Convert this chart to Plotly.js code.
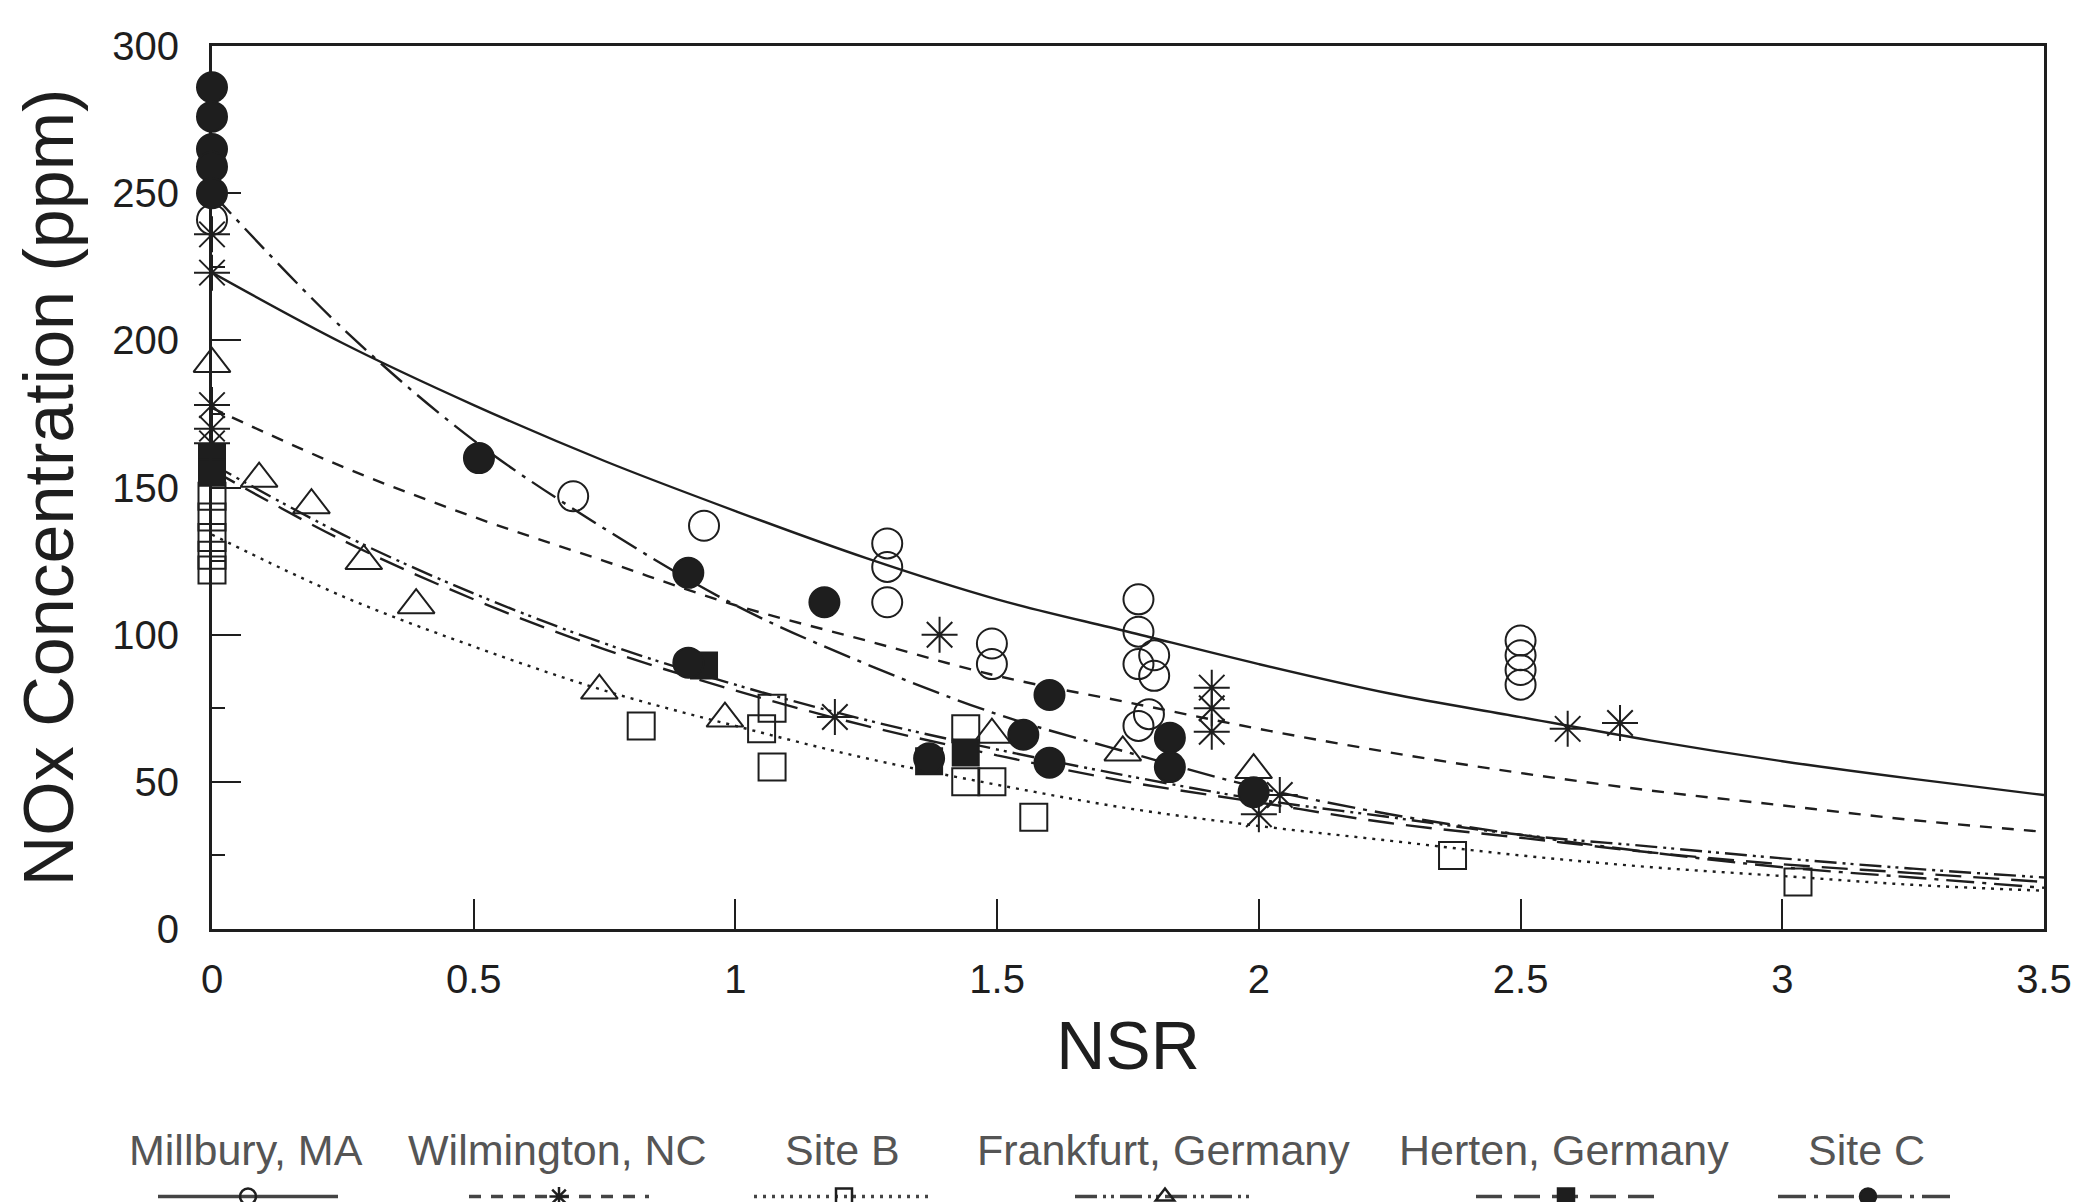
<!DOCTYPE html>
<html><head><meta charset="utf-8">
<script src="https://cdn.plot.ly/plotly-3.0.1.min.js"></script>
<style>html,body{margin:0;padding:0;background:#fff;} #chart{width:2074px;height:1202px;}</style>
</head><body><div id="chart"></div>
<script>
// ---------- data ----------
const seriesNames = ['Millbury, MA', 'Wilmington, NC', 'Site B', 'Frankfurt, Germany', 'Herten, Germany', 'Site C'];

// fitted curves, sampled at these NSR values
const curveX = [0, 0.25, 0.5, 0.75, 1, 1.25, 1.5, 1.75, 2, 2.25, 2.5, 2.75, 3, 3.25, 3.5];
const millburyCurve   = [223, 199, 178, 159, 142, 126, 112, 101, 90, 80, 72, 64, 57, 51, 45.5];
const wilmingtonCurve = [177, 157, 140, 125, 110, 98, 86, 77, 68, 60, 53, 47, 42, 37, 33];
const siteBCurve      = [134, 113, 96, 81, 69, 58, 49, 41, 35, 30, 25, 21, 18, 15, 13];
const frankfurtCurve  = [158, 134, 114, 97, 83, 71, 61, 52, 44, 38, 32, 28, 24, 20.5, 17.5];
const hertenCurve     = [156, 132, 112, 95, 81, 69, 59, 50, 43, 36, 31, 26, 22, 19, 16];
const siteCCurve      = [250, 204, 166, 136, 110, 90, 73, 60, 48, 39, 32, 26, 21, 17.5, 14];

// measured points
const millburyX = [0, 0.69, 0.94, 1.29, 1.29, 1.29, 1.49, 1.49, 1.77, 1.77, 1.8, 1.77, 1.8, 1.77, 1.79, 2.5, 2.5, 2.5, 2.5];
const millburyY = [241, 147, 137, 131, 123, 111, 97, 90, 112, 101, 93, 90, 86, 69, 73, 98, 93, 88, 83];

const wilmingtonX = [0, 0, 0, 0, 0, 1.19, 1.39, 1.91, 1.91, 1.91, 2.0, 2.04, 2.59, 2.69];
const wilmingtonY = [236, 223, 178, 170, 165, 72, 100, 82, 75, 67, 39, 45.5, 68, 70];

const siteBX = [0, 0, 0, 0, 0, 0.82, 1.07, 1.05, 1.07, 1.44, 1.44, 1.49, 1.57, 2.37, 3.03];
const siteBY = [147, 140, 133, 127, 122, 69, 75, 68, 55, 68, 50, 50, 38, 25, 16];

const frankfurtX = [0, 0.09, 0.19, 0.29, 0.39, 0.74, 0.98, 1.49, 1.74, 1.99];
const frankfurtY = [192, 153, 144, 125, 110, 81, 71.5, 66, 60, 54];

const hertenX = [0, 0, 0.94, 1.37, 1.44];
const hertenY = [160, 155, 89.5, 57, 60];

const siteCX = [0, 0, 0, 0, 0, 0.51, 0.91, 0.91, 1.17, 1.37, 1.55, 1.6, 1.6, 1.83, 1.83, 1.99];
const siteCY = [286, 276, 265, 259, 250, 160, 121, 90.5, 111, 58, 66, 79.5, 56.5, 65, 55, 46.5];

const xTickVals = [0, 0.5, 1, 1.5, 2, 2.5, 3, 3.5];
const yTickVals = [0, 50, 100, 150, 200, 250, 300];

// ---------- styling ----------
const INK = '#1e1e1e';
const FONT = 'Liberation Sans, Arial, Helvetica, sans-serif';
const styles = [
  {dash: 'solid',                       symbol: 'circle-open',      size: 30},
  {dash: '12px,10px',                   symbol: 'asterisk-open',    size: 30},
  {dash: '3px,6px',                     symbol: 'square-open',      size: 27},
  {dash: '22px,6px,3px,5px,3px,6px',    symbol: 'triangle-up-open', size: 32},
  {dash: '26px,12px',                   symbol: 'square',           size: 26},
  {dash: '28px,8px,4px,8px',            symbol: 'circle',           size: 30}
];
const curves = [millburyCurve, wilmingtonCurve, siteBCurve, frankfurtCurve, hertenCurve, siteCCurve];
const pts = [[millburyX, millburyY], [wilmingtonX, wilmingtonY], [siteBX, siteBY],
             [frankfurtX, frankfurtY], [hertenX, hertenY], [siteCX, siteCY]];

const legendKeys = ['legend', 'legend2', 'legend3', 'legend4', 'legend5', 'legend6'];
const legendCentersPx = [246, 557, 842, 1163, 1564, 1866];

const W = 2074, H = 1202;
const M = {l: 212, r: 30, t: 46, b: 273};
const plotW = W - M.l - M.r, plotH = H - M.t - M.b;
const LEG_LINE = 180;        // legend sample length (px)
const LEG_LINE_OFFSET = 3;   // gap between legend box edge and sample start (px)

const traces = [];
// curves
curves.forEach((c, i) => {
  traces.push({
    x: curveX, y: c, type: 'scatter', mode: 'lines', showlegend: false,
    line: {color: INK, width: 2.4, dash: styles[i].dash, shape: 'spline'},
    hoverinfo: 'skip'
  });
});
// points
pts.forEach((p, i) => {
  const s = styles[i];
  traces.push({
    x: p[0], y: p[1], type: 'scatter', mode: 'markers', name: seriesNames[i], showlegend: false,
    cliponaxis: false,
    marker: {symbol: s.symbol, size: s.size, color: INK, line: {color: INK, width: 2}}
  });
});
// legend samples (no data; only shown in the legends)
seriesNames.forEach((n, i) => {
  const s = styles[i];
  traces.push({
    x: [null], y: [null], type: 'scatter', mode: 'lines+markers', name: '',
    legend: legendKeys[i], showlegend: true,
    line: {color: '#444', width: 3.5, dash: s.dash},
    marker: {symbol: s.symbol, size: s.size, color: INK, line: {color: INK, width: 2.5}}
  });
});

const layout = {
  width: W, height: H,
  margin: M,
  paper_bgcolor: '#fff', plot_bgcolor: '#fff',
  font: {family: FONT, color: INK},
  xaxis: {
    range: [0, 3.5], tickvals: xTickVals, ticks: 'inside', ticklen: 30, tickwidth: 2, tickcolor: INK,
    showline: true, linewidth: 3, linecolor: INK, mirror: true, showgrid: false, zeroline: false,
    tickfont: {size: 40, color: INK, family: FONT}, ticklabelstandoff: 13,
    title: {text: 'NSR', font: {size: 68, color: INK, family: FONT}, standoff: 22}
  },
  yaxis: {
    range: [0, 300], tickvals: yTickVals, ticks: 'inside', ticklen: 29, tickwidth: 2, tickcolor: INK,
    minor: {dtick: 25, ticks: 'inside', ticklen: 13, tickwidth: 2, tickcolor: INK, showgrid: false},
    showline: true, linewidth: 3, linecolor: INK, mirror: true, showgrid: false, zeroline: false,
    tickfont: {size: 40, color: INK, family: FONT}, ticklabelstandoff: 22,
    title: {text: 'NOx Concentration (ppm)', font: {size: 70, color: INK, family: FONT}, standoff: 16}
  },
  annotations: []
};

legendKeys.forEach((k, i) => {
  const cx = legendCentersPx[i];
  layout[k] = {
    xref: 'container', yref: 'container',
    x: (cx - LEG_LINE / 2 - LEG_LINE_OFFSET) / W, xanchor: 'left',
    y: 1 - 1182 / H, yanchor: 'top',
    orientation: 'h', bgcolor: 'rgba(0,0,0,0)', borderwidth: 0,
    itemwidth: LEG_LINE, font: {size: 12, color: '#555'}
  };
  layout.annotations.push({
    xref: 'paper', yref: 'paper', x: (cx - M.l) / plotW, y: -(1150 - (M.t + plotH)) / plotH,
    xanchor: 'center', yanchor: 'middle', showarrow: false,
    text: seriesNames[i], font: {size: 43, color: '#555', family: FONT}
  });
});

Plotly.newPlot('chart', traces, layout, {displayModeBar: false, staticPlot: true});
</script>
</body></html>
